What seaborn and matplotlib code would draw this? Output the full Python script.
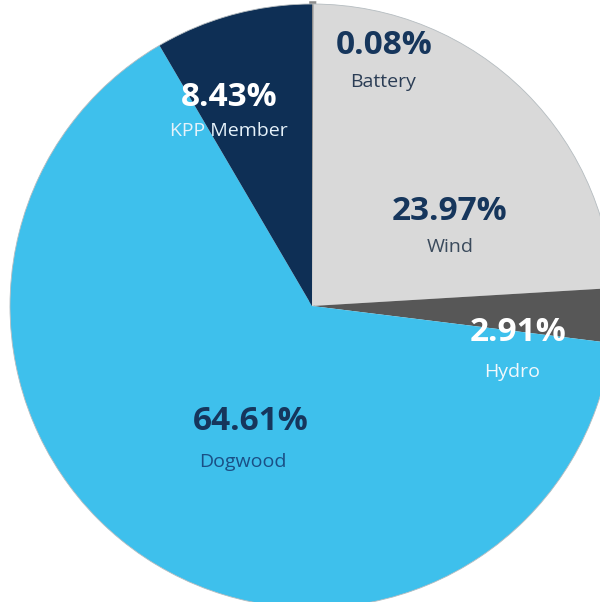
import matplotlib
matplotlib.use("Agg")
import matplotlib.pyplot as plt
import seaborn as sns
from matplotlib.patches import Circle

sns.set_theme(style="white")
plt.rcParams['font.family'] = ['Open Sans', 'DejaVu Sans']

categories = ["Battery", "Wind", "Hydro", "Dogwood", "KPP Member"]
values = [0.08, 23.97, 2.91, 64.61, 8.43]
pct_labels = ["0.08%", "23.97%", "2.91%", "64.61%", "8.43%"]
colors = ["#8c8c8c", "#d9d9d9", "#575757", "#3ec0ec", "#0e2f55"]

W, H = 600, 602
fig = plt.figure(figsize=(W / 100, H / 100), dpi=100)
ax = fig.add_axes([0, 0, 1, 1])
wedges, _ = ax.pie(values, colors=colors, startangle=90, counterclock=False,
                   radius=1.0, wedgeprops=dict(linewidth=0))
wedges[0].set_edgecolor("#8c8c8c")
wedges[0].set_linewidth(4)
cx, cy, r = 312, 306, 302
ax.set_aspect('auto')
ax.set_xlim(-cx / r, (W - cx) / r)
ax.set_ylim(-(H - cy) / r, cy / r)
ax.axis('off')
ax.add_patch(Circle((0, 0), 1.0, fill=False, edgecolor="#b5bcc0", linewidth=0.6))

def px(x, y):
    return ((x - cx) / r, (cy - y) / r)

layout = {
    "Battery": ((384, 45), (383, 82), "#16365c", "#2b3d55"),
    "Wind": ((450, 211), (450, 247), "#16365c", "#3a4a5c"),
    "Hydro": ((518, 332), (512, 372), "white", "#f2f8fc"),
    "Dogwood": ((251, 421), (243, 462), "#16365c", "#1a4f85"),
    "KPP Member": ((229, 97), (229, 131), "white", "#e6f2fa"),
}
for cat, pl in zip(categories, pct_labels):
    (p1, p2, c1, c2) = layout[cat]
    ax.text(*px(*p1), pl, ha='center', va='center', fontsize=24,
            fontweight='bold', color=c1)
    ax.text(*px(*p2), cat, ha='center', va='center', fontsize=14,
            color=c2)

fig.savefig("out.png", dpi=100)
